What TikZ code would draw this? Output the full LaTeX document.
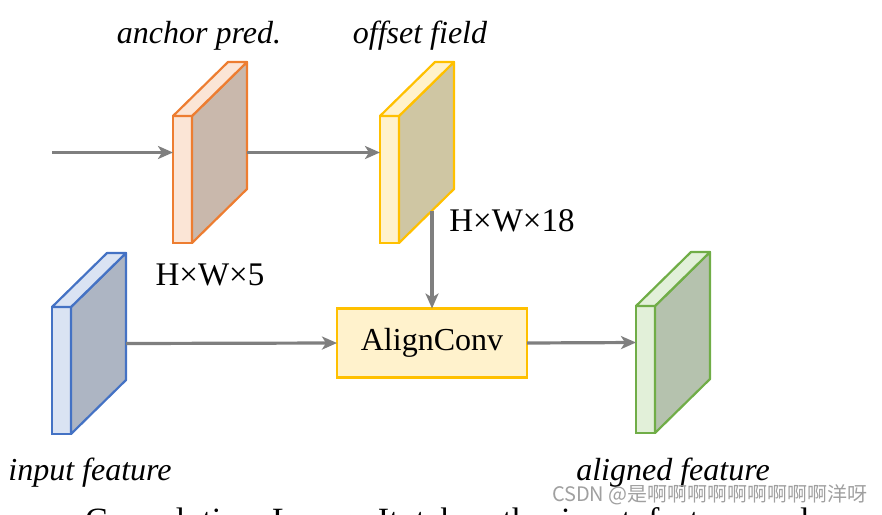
\documentclass[tikz,border=0pt]{standalone}
\usepackage{fontspec}
\setmainfont{Liberation Serif}
\newfontfamily\cjkwm{Noto Sans CJK SC}
\usetikzlibrary{arrows.meta,calc}
\definecolor{orgS}{HTML}{ED7D31}\definecolor{orgF}{HTML}{FBE5D6}\definecolor{orgB}{HTML}{C9B8AC}
\definecolor{ylwS}{HTML}{FFC000}\definecolor{ylwF}{HTML}{FFF2CC}\definecolor{ylwB}{HTML}{CFC6A3}
\definecolor{bluS}{HTML}{4472C4}\definecolor{bluF}{HTML}{DAE3F3}\definecolor{bluB}{HTML}{ADB5C3}
\definecolor{grnS}{HTML}{70AD47}\definecolor{grnF}{HTML}{E2F0D9}\definecolor{grnB}{HTML}{B5C2AE}
\definecolor{arrgray}{HTML}{7F7F7F}\definecolor{wmgray}{HTML}{A0A0A0}
\tikzset{
  >={Stealth[length=15pt,width=13pt,inset=4pt]},
  arr/.style={->,draw=arrgray,line width=3.2pt},
  lbl/.style={font=\fontsize{32}{38}\selectfont\itshape,anchor=base,inner sep=0pt},
  dim/.style={font=\fontsize{33}{40}\selectfont,anchor=base,inner sep=0pt},
  blk/.style={draw=ylwS,fill=ylwF,line width=2.2pt,minimum width=190pt,minimum height=69pt,inner sep=0pt,outer sep=0pt,font=\fontsize{32}{38}\selectfont},
  every picture/.style={x=1pt,y=-1pt},
}
\newcommand{\featslab}[6]{%
  \node[draw=#4,fill=#5,line width=2.2pt,minimum width=19pt,minimum height=127pt,inner sep=0pt,outer sep=0pt,anchor=north west] (#1) at (#2,#3) {};
  \draw[draw=#4,fill=#6,line width=2.2pt,line join=round] (#1.north east) -- ++(55,-54) -- ++(0,127) -- (#1.south east) -- cycle;
  \draw[draw=#4,fill=#5,line width=2.2pt,line join=round] (#1.north west) -- ++(55,-54) -- ++(19,0) -- (#1.north east) -- cycle;
  \coordinate (#1-in) at ($(#1.west)+(0,-27)$);
  \coordinate (#1-out) at ($(#1.east)+(55,-27)$);
  \coordinate (#1-bot) at ($(#1.south east)+(33,-32)$);
}

\begin{document}
\begin{tikzpicture}
\useasboundingbox (0,0) rectangle (882,514);
\featslab{ap}{173}{116}{orgS}{orgF}{orgB}
\featslab{of}{380}{116}{ylwS}{ylwF}{ylwB}
\featslab{inp}{52}{307}{bluS}{bluF}{bluB}
\featslab{alf}{636}{306}{grnS}{grnF}{grnB}
\node[blk] (ac) at (432,343) {AlignConv};
\coordinate (src) at (52,152.5);
\draw[arr] (src) -- (ap-in); \draw[arr] (ap-out) -- (of-in);
\draw[arr] (of-bot -| ac.north) -- (ac.north);
\draw[arr] (inp-out) -- (ac.west); \draw[arr] (ac.east) -- (alf-in);
\node[lbl] (apl) at (199,43) {anchor pred.}; \node[lbl] (ofl) at (420,43) {offset field};
\node[dim] (apd) at (210,285) {H×W×5}; \node[dim] (ofd) at (512,231) {H×W×18};
\node[lbl] (inl) at (90,480) {input feature}; \node[lbl] (all) at (673,480) {aligned feature};
\node[anchor=base east,inner sep=0pt,text=wmgray,font=\cjkwm\fontsize{20}{24}\selectfont] (wm) at (868,501) {CSDN @是啊啊啊啊啊啊啊啊啊洋呀};
\begin{scope}
\clip (0,0) rectangle (882,514);
\node[anchor=base west,inner sep=0pt,font=\fontsize{34}{40}\selectfont] (cap) at (85,531) {Convolution \ Layer. \ It \ takes \ the \ input \ feature \ and};
\end{scope}
\end{tikzpicture}
\end{document}
